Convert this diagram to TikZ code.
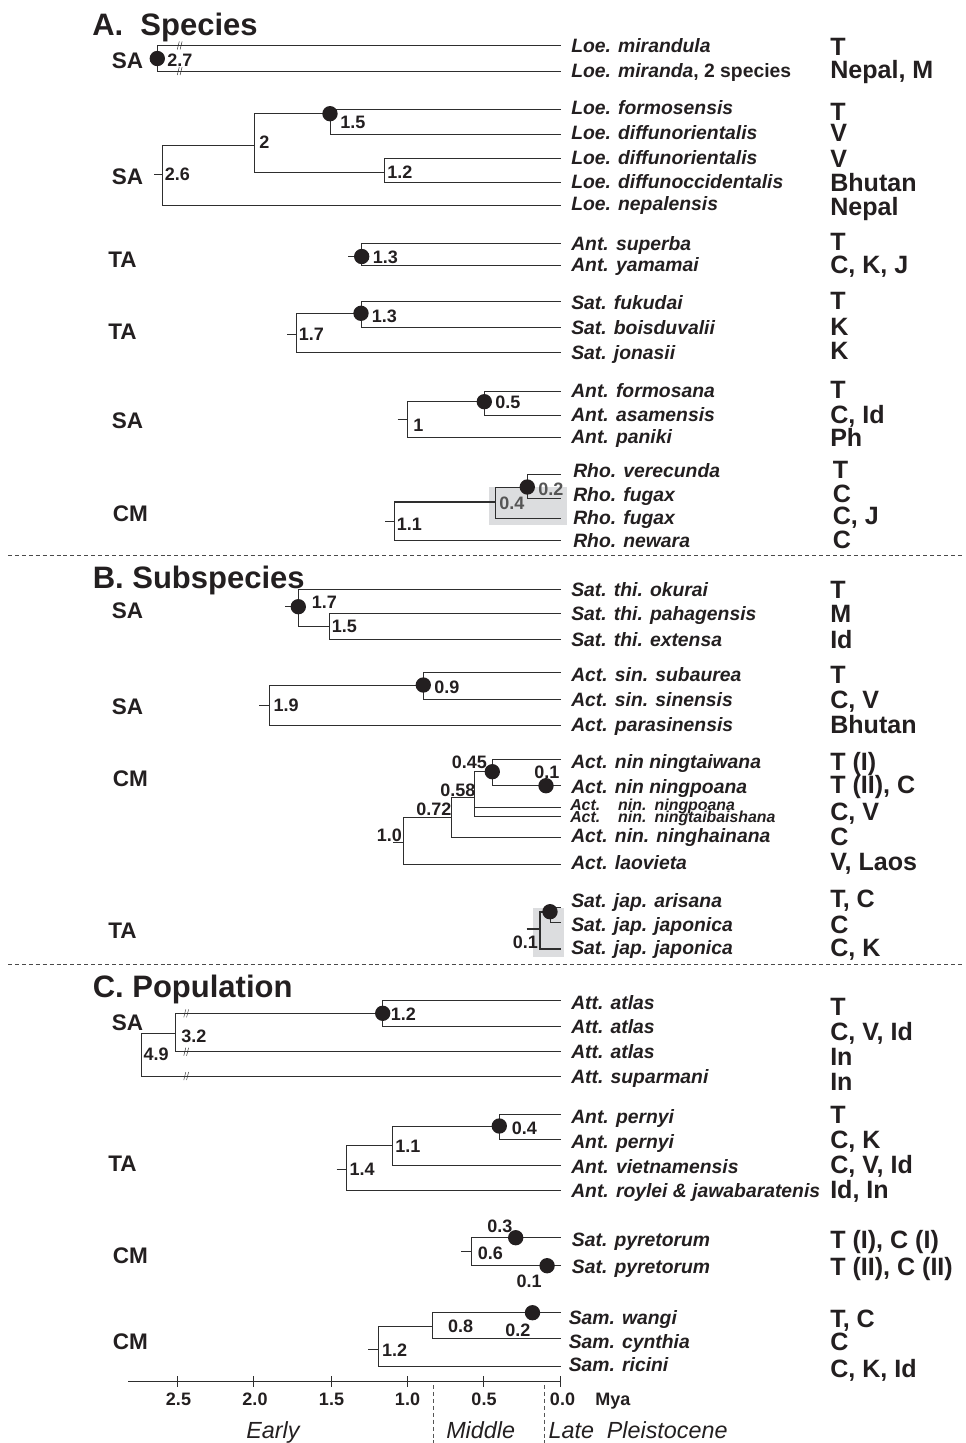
\documentclass[tikz,border=0pt]{standalone}
\usepackage{fontspec}
\setmainfont{Liberation Sans}
\definecolor{tc}{HTML}{231F20}
\definecolor{lc}{HTML}{2E2E2E}
\definecolor{gbox}{HTML}{DCDDDF}
\definecolor{gtx}{HTML}{555555}
\definecolor{sepc}{HTML}{4A4A4A}
\newcommand\leaffont{\fontsize{14.5}{16}\selectfont\bfseries\itshape}
\newcommand\sleaffont{\fontsize{11.9}{13}\selectfont\bfseries\itshape}
\newcommand\locfont{\fontsize{18.8}{20}\selectfont\bfseries}
\newcommand\grpfont{\fontsize{16.9}{18}\selectfont\bfseries}
\newcommand\nlfont{\fontsize{13.5}{15}\selectfont\bfseries}
\newcommand\ttlfont{\fontsize{23.25}{25}\selectfont\bfseries}
\newcommand\epfont{\fontsize{17.5}{19}\selectfont\itshape}
\tikzset{
  br/.style={draw=lc, line width=0.75pt},
  thk/.style={draw=lc, line width=1.5pt},
  leaf/.style={anchor=west, inner sep=0pt, font=\leaffont, text=tc, text height=10.4pt, text depth=0pt},
  sleaf/.style={anchor=west, inner sep=0pt, font=\sleaffont, text=tc, text height=8.5pt, text depth=0pt},
  loc/.style={anchor=west, inner sep=0pt, font=\locfont, text=tc, text height=13.4pt, text depth=0pt},
  grp/.style={anchor=west, inner sep=0pt, font=\grpfont, text=tc, text height=12.1pt, text depth=0pt},
  nl/.style={anchor=west, inner sep=0pt, font=\nlfont, text=tc, text height=9.7pt, text depth=0pt},
  ttl/.style={anchor=west, inner sep=0pt, font=\ttlfont, text=tc, text height=16.6pt, text depth=0pt},
  axlab/.style={anchor=center, inner sep=0pt, font=\nlfont, text=tc, text height=9.7pt, text depth=0pt},
  eplab/.style={anchor=west, inner sep=0pt, font=\epfont, text=tc, text height=12.5pt, text depth=0pt},
  dot/.style={circle, fill=tc, draw=none, inner sep=0pt, minimum size=11.5pt},
  sepline/.style={draw=sepc, line width=0.6pt, dash pattern=on 3pt off 2.2pt},
  vsepline/.style={draw=gtx, line width=0.6pt, dash pattern=on 3pt off 2.2pt},
  brk/.pic={\draw[lc, line width=0.35pt] (-2.2,4)--(-0.2,-4) (0.6,4)--(2.6,-4);}
}
\begin{document}
\begin{tikzpicture}[x=0.75pt,y=-0.75pt]
\useasboundingbox (0,0) rectangle (965,1443);
% grey boxes
\fill[gbox] (489.3,487.2) rectangle (566.7,525);
\fill[gbox] (532.7,908.3) rectangle (564.3,956.7);
% titles
\node[ttl] (tA) at (92,24) {A.\ \ Species};
\node[ttl] (tB) at (92.5,577.5) {B. Subspecies};
\node[ttl] (tC) at (92.5,986) {C. Population};
% separators
\coordinate (s1l) at (8,555.7); \coordinate (s1r) at (963,555.7);
\coordinate (s2l) at (8,964); \coordinate (s2r) at (963,964);
\draw[sepline] (s1l) -- (s1r);
\draw[sepline] (s2l) -- (s2r);

% ================= A =================
% A1
\coordinate (a27) at (157.3,58.5); \coordinate (a27s) at (150,58.5);
\coordinate (la1) at (561,45.5); \coordinate (la2) at (561,71);
\draw[br] (a27) |- (la1); \draw[br] (a27) |- (la2); \draw[br] (a27s) -- (a27);
\node[dot] (da27) at (a27) {};
\node[nl] (na27) at (167,60) {2.7};
\pic at (179.5,45.5) {brk}; \pic at (179.5,71) {brk};
\node[grp] (ga1) at (111.5,60) {SA};
\node[leaf] (xa1) at (571,46) {Loe. mirandula};
\node[leaf] (xa2) at (571,71) {Loe. miranda\upshape, 2 species};
\node[loc] (ya1) at (830,46.7) {T};
\node[loc] (ya2) at (830,70) {Nepal, M};
% A2
\coordinate (a26) at (162.3,174.3); \coordinate (a26s) at (154,174.3);
\coordinate (a20) at (254.3,145.7);
\coordinate (a15) at (330,113.7);
\coordinate (a12) at (384.3,172.3);
\coordinate (la3) at (561,109); \coordinate (la4) at (561,134);
\coordinate (la5) at (561,158.5); \coordinate (la6) at (561,182.5);
\coordinate (la7) at (561,205);
\draw[br] (a26s) -- (a26);
\draw[br] (a26) |- (a20); \draw[br] (a26) |- (la7);
\draw[br] (a20) |- (a15); \draw[br] (a20) |- (a12);
\draw[br] (a15) |- (la3); \draw[br] (a15) |- (la4);
\draw[br] (a12) |- (la5); \draw[br] (a12) |- (la6);
\node[dot] (da15) at (a15) {};
\node[nl] (na15) at (340,121.7) {1.5};
\node[nl] (na12) at (387,172) {1.2};
\node[nl] (na20) at (259,142) {2};
\node[nl] (na26) at (164.5,174.3) {2.6};
\node[grp] (ga2) at (111.5,176.7) {SA};
\node[leaf] (xa3) at (571,108) {Loe. formosensis};
\node[leaf] (xa4) at (571,133) {Loe. diffunorientalis};
\node[leaf] (xa5) at (571,157.5) {Loe. diffunorientalis};
\node[leaf] (xa6) at (571,181.5) {Loe. diffunoccidentalis};
\node[leaf] (xa7) at (571,204) {Loe. nepalensis};
\node[loc] (ya3) at (830,111.7) {T};
\node[loc] (ya4) at (830,133) {V};
\node[loc] (ya5) at (830,159) {V};
\node[loc] (ya6) at (830,182.7) {Bhutan};
\node[loc] (ya7) at (830,206.7) {Nepal};
% A3
\coordinate (a13) at (361.7,256.5); \coordinate (a13s) at (348,256.5);
\coordinate (la8) at (561,243.3); \coordinate (la9) at (561,265.7);
\draw[br] (a13s) -- (a13);
\draw[br] (a13) |- (la8); \draw[br] (a13) |- (la9);
\node[dot] (da13) at (a13) {};
\node[nl] (na13) at (372.7,257.3) {1.3};
\node[grp] (ga3) at (108,259.3) {TA};
\node[leaf] (xa8) at (571,243.3) {Ant. superba};
\node[leaf] (xa9) at (571,265) {Ant. yamamai};
\node[loc] (ya8) at (830,241.7) {T};
\node[loc] (ya9) at (830,264.3) {C, K, J};
% A4
\coordinate (a17) at (296.7,334.3); \coordinate (a17s) at (287.3,334.3);
\coordinate (a13b) at (361,313.3);
\coordinate (la10) at (561,301.3); \coordinate (la11) at (561,327.3);
\coordinate (la12) at (561,352.3);
\draw[br] (a17s) -- (a17);
\draw[br] (a17) |- (a13b); \draw[br] (a17) |- (la12);
\draw[br] (a13b) |- (la10); \draw[br] (a13b) |- (la11);
\node[dot] (da13b) at (a13b) {};
\node[nl] (na13b) at (371.7,315.7) {1.3};
\node[nl] (na17) at (298.5,334.3) {1.7};
\node[grp] (ga4) at (108,331.7) {TA};
\node[leaf] (xa10) at (571,302.3) {Sat. fukudai};
\node[leaf] (xa11) at (571,327.3) {Sat. boisduvalii};
\node[leaf] (xa12) at (571,352.3) {Sat. jonasii};
\node[loc] (ya10) at (830,301) {T};
\node[loc] (ya11) at (830,326.7) {K};
\node[loc] (ya12) at (830,351) {K};
% A5
\coordinate (a10) at (407.7,419.3); \coordinate (a10s) at (397.7,419.3);
\coordinate (a05) at (484.3,401.7);
\coordinate (la13) at (561,391); \coordinate (la14) at (561,415);
\coordinate (la15) at (561,437.3);
\draw[br] (a10s) -- (a10);
\draw[br] (a10) |- (a05); \draw[br] (a10) |- (la15);
\draw[br] (a05) |- (la13); \draw[br] (a05) |- (la14);
\node[dot] (da05) at (a05) {};
\node[nl] (na05) at (495,402.3) {0.5};
\node[nl] (na10) at (413,425) {1};
\node[grp] (ga5) at (111.5,420) {SA};
\node[leaf] (xa13) at (571,391) {Ant. formosana};
\node[leaf] (xa14) at (571,414.3) {Ant. asamensis};
\node[leaf] (xa15) at (571,436.7) {Ant. paniki};
\node[loc] (ya13) at (830,390) {T};
\node[loc] (ya14) at (830,414.3) {C, Id};
\node[loc] (ya15) at (830,437.7) {Ph};
% A6
\coordinate (a11) at (394,521.7); \coordinate (a11s) at (385,521.7);
\coordinate (a11t) at (394,502.3);
\coordinate (a04) at (495,502.3);
\coordinate (a02) at (527.3,487);
\coordinate (la16) at (561,474); \coordinate (la17) at (561,498.5);
\coordinate (la18) at (561,518.5); \coordinate (la19) at (561,540.5);
\draw[br] (a11s) -- (a11);
\draw[br] (a11) -- (a11t); \draw[br] (a11) |- (la19);
\draw[thk] (a11t) -- (a04);
\draw[br] (a04) |- (a02); \draw[br] (a04) |- (la18);
\draw[br] (a02) |- (la16); \draw[br] (a02) |- (la17);
\node[dot] (da02) at (a02) {};
\node[nl, text=gtx] (na02) at (538,489) {0.2};
\node[nl, text=gtx] (na04) at (499,503.3) {0.4};
\node[nl] (na11) at (396.7,524.3) {1.1};
\node[grp] (ga6) at (112.5,513.3) {CM};
\node[leaf] (xa16) at (573,471) {Rho. verecunda};
\node[leaf] (xa17) at (573,494.3) {Rho. fugax};
\node[leaf] (xa18) at (573,517.7) {Rho. fugax};
\node[leaf] (xa19) at (573,541) {Rho. newara};
\node[loc] (ya16) at (832.5,470) {T};
\node[loc] (ya17) at (832.5,493.3) {C};
\node[loc] (ya18) at (832.5,515.7) {C, J};
\node[loc] (ya19) at (832.5,540) {C};

% ================= B =================
% B1
\coordinate (b17) at (298.3,606.7); \coordinate (b17s) at (285,606.7);
\coordinate (b15) at (329.3,626);
\coordinate (lb1) at (561,589.3); \coordinate (lb2) at (561,613.3);
\coordinate (lb3) at (561,639.3);
\draw[br] (b17s) -- (b17);
\draw[br] (b17) |- (lb1); \draw[br] (b17) |- (b15);
\draw[br] (b15) |- (lb2); \draw[br] (b15) |- (lb3);
\node[dot] (db17) at (b17) {};
\node[nl] (nb17) at (311.7,602.3) {1.7};
\node[nl] (nb15) at (331.7,625.7) {1.5};
\node[grp] (gb1) at (111.5,610) {SA};
\node[leaf] (xb1) at (571,590) {Sat. thi. okurai};
\node[leaf] (xb2) at (571,614) {Sat. thi. pahagensis};
\node[leaf] (xb3) at (571,639.3) {Sat. thi. extensa};
\node[loc] (yb1) at (830,589.3) {T};
\node[loc] (yb2) at (830,614) {M};
\node[loc] (yb3) at (830,640) {Id};
% B2
\coordinate (b19) at (269,705); \coordinate (b19s) at (259.3,705);
\coordinate (b09) at (423.3,685);
\coordinate (lb4) at (561,672.7); \coordinate (lb5) at (561,699);
\coordinate (lb6) at (561,725);
\draw[br] (b19s) -- (b19);
\draw[br] (b19) |- (b09); \draw[br] (b19) |- (lb6);
\draw[br] (b09) |- (lb4); \draw[br] (b09) |- (lb5);
\node[dot] (db09) at (b09) {};
\node[nl] (nb09) at (434,687.3) {0.9};
\node[nl] (nb19) at (273.3,705) {1.9};
\node[grp] (gb2) at (111.5,706.7) {SA};
\node[leaf] (xb4) at (571,675) {Act. sin. subaurea};
\node[leaf] (xb5) at (571,700) {Act. sin. sinensis};
\node[leaf] (xb6) at (571,725) {Act. parasinensis};
\node[loc] (yb4) at (830,675) {T};
\node[loc] (yb5) at (830,700) {C, V};
\node[loc] (yb6) at (830,725) {Bhutan};
% B3
\coordinate (b10) at (403.3,842.3); \coordinate (b10s) at (393.3,842.3);
\coordinate (b072) at (451.7,817.3);
\coordinate (b058) at (474,797.3);
\coordinate (b045) at (492.3,771.7);
\coordinate (lb7) at (561,759); \coordinate (lb8) at (561,785.7);
\coordinate (lb9) at (561,807.7); \coordinate (lb10) at (561,816.7);
\coordinate (lb11) at (561,837.3); \coordinate (lb12) at (561,864);
\draw[br] (b10s) -- (b10);
\draw[br] (b10) |- (b072); \draw[br] (b10) |- (lb12);
\draw[br] (b072) |- (b058); \draw[br] (b072) |- (lb11);
\draw[br] (b058) |- (b045); \draw[br] (b058) |- (lb9); \draw[br] (b058) |- (lb10);
\draw[br] (b045) |- (lb7); \draw[br] (b045) |- (lb8);
\node[dot] (db045) at (b045) {};
\node[dot] (db01) at (546,785.7) {};
\node[nl] (nb01) at (534,771.7) {0.1};
\node[nl] (nb045) at (451.7,761.7) {0.45};
\node[nl] (nb058) at (440,790) {0.58};
\node[nl] (nb072) at (416,809.3) {0.72};
\node[nl] (nb10) at (376.7,835) {1.0};
\node[grp] (gb3) at (112.5,778.3) {CM};
\node[leaf] (xb7) at (571,761.7) {Act. nin ningtaiwana};
\node[leaf] (xb8) at (571,786.7) {Act. nin ningpoana};
\node[sleaf] (xb9) at (570,805) {Act.\hspace{13.5pt}nin.\hspace{6.2pt}ningpoana};
\node[sleaf] (xb10) at (570,816.7) {Act.\hspace{13.5pt}nin.\hspace{6.2pt}ningtaibaishana};
\node[leaf] (xb11) at (571,836) {Act. nin. ninghainana};
\node[leaf] (xb12) at (571,862.5) {Act. laovieta};
\node[loc] (yb7) at (830,761.7) {T (I)};
\node[loc] (yb8) at (830,785) {T (II), C};
\node[loc] (yb9) at (830,811.7) {C, V};
\node[loc] (yb11) at (830,836.7) {C};
\node[loc] (yb12) at (830,862) {V, Laos};
% B4
\coordinate (b01) at (540,929.3); \coordinate (b01s) at (526.7,929.3);
\coordinate (b01d) at (550,911.7);
\coordinate (lb13) at (561,907.7); \coordinate (lb14) at (561,922.7);
\coordinate (lb15) at (561,949.3);
\draw[thk] (b01s) -- (b01);
\draw[thk] (b01) |- (b01d); \draw[thk] (b01) |- (lb15);
\draw[br] (b01d) |- (lb13); \draw[br] (b01d) |- (lb14);
\node[dot] (db01d) at (b01d) {};
\node[nl] (nb01b) at (512.7,941.7) {0.1};
\node[grp] (gb4) at (108,930) {TA};
\node[leaf] (xb13) at (571,901) {Sat. jap. arisana};
\node[leaf] (xb14) at (571,925) {Sat. jap. japonica};
\node[leaf] (xb15) at (571,948) {Sat. jap. japonica};
\node[loc] (yb13) at (830,899) {T, C};
\node[loc] (yb14) at (830,925) {C};
\node[loc] (yb15) at (830,948) {C, K};

% ================= C =================
% C1
\coordinate (c49) at (141,1033.3);
\coordinate (c32) at (175.7,1033.3);
\coordinate (c12) at (382.7,1013.3);
\coordinate (lc1) at (561,1000.7); \coordinate (lc2) at (561,1026.7);
\coordinate (lc3) at (561,1051.7); \coordinate (lc4) at (561,1076);
\draw[br] (c49) -- (c32); \draw[br] (c49) |- (lc4);
\draw[br] (c32) |- (c12); \draw[br] (c32) |- (lc3);
\draw[br] (c12) |- (lc1); \draw[br] (c12) |- (lc2);
\node[dot] (dc12) at (c12) {};
\pic at (186,1013.3) {brk}; \pic at (186,1051.7) {brk}; \pic at (186,1076) {brk};
\node[nl] (nc12) at (390.7,1014) {1.2};
\node[nl] (nc32) at (181,1036) {3.2};
\node[nl] (nc49) at (143.3,1054.3) {4.9};
\node[grp] (gc1) at (111.5,1022.7) {SA};
\node[leaf] (xc1) at (571,1002.7) {Att. atlas};
\node[leaf] (xc2) at (571,1026.7) {Att. atlas};
\node[leaf] (xc3) at (571,1051.7) {Att. atlas};
\node[leaf] (xc4) at (571,1076.7) {Att. suparmani};
\node[loc] (yc1) at (830,1006.7) {T};
\node[loc] (yc2) at (830,1031.7) {C, V, Id};
\node[loc] (yc3) at (830,1056.7) {In};
\node[loc] (yc4) at (830,1081.7) {In};
% C2
\coordinate (c14) at (346.7,1169); \coordinate (c14s) at (336.7,1169);
\coordinate (c11) at (392.3,1145.7);
\coordinate (c04) at (499.3,1126);
\coordinate (lc5) at (561,1114); \coordinate (lc6) at (561,1139);
\coordinate (lc7) at (561,1165.7); \coordinate (lc8) at (561,1190);
\draw[br] (c14s) -- (c14);
\draw[br] (c14) |- (c11); \draw[br] (c14) |- (lc8);
\draw[br] (c11) |- (c04); \draw[br] (c11) |- (lc7);
\draw[br] (c04) |- (lc5); \draw[br] (c04) |- (lc6);
\node[dot] (dc04) at (c04) {};
\node[nl] (nc04) at (511.7,1127.7) {0.4};
\node[nl] (nc11) at (395,1145.7) {1.1};
\node[nl] (nc14) at (349.3,1169.3) {1.4};
\node[grp] (gc2) at (108,1163.3) {TA};
\node[leaf] (xc5) at (571,1116.7) {Ant. pernyi};
\node[leaf] (xc6) at (571,1141.7) {Ant. pernyi};
\node[leaf] (xc7) at (571,1166.7) {Ant. vietnamensis};
\node[leaf] (xc8) at (571,1190.7) {Ant. roylei \& jawabaratenis};
\node[loc] (yc5) at (830,1115) {T};
\node[loc] (yc6) at (830,1140) {C, K};
\node[loc] (yc7) at (830,1165) {C, V, Id};
\node[loc] (yc8) at (830,1190) {Id, In};
% C3
\coordinate (c06) at (471.8,1251.7); \coordinate (c06s) at (461.4,1251.7);
\coordinate (lc9) at (561,1237.7); \coordinate (lc10) at (561,1265.7);
\draw[br] (c06s) -- (c06);
\draw[br] (c06) |- (lc9); \draw[br] (c06) |- (lc10);
\node[dot] (dc03) at (515.7,1237.7) {};
\node[dot] (dc01) at (547.1,1265.7) {};
\node[nl] (nc03) at (487,1225.7) {0.3};
\node[nl] (nc06) at (477.5,1253.3) {0.6};
\node[nl] (nc01) at (516.4,1281) {0.1};
\node[grp] (gc3) at (112.5,1255) {CM};
\node[leaf] (xc9) at (571.7,1240) {Sat. pyretorum};
\node[leaf] (xc10) at (571.7,1266.7) {Sat. pyretorum};
\node[loc] (yc9) at (830,1240) {T (I), C (I)};
\node[loc] (yc10) at (830,1266.7) {T (II), C (II)};
% C4
\coordinate (c12b) at (378.2,1349); \coordinate (c12bs) at (368.2,1349);
\coordinate (c08) at (432.9,1326.7);
\coordinate (lc11) at (561,1312.7); \coordinate (lc12) at (561,1338.3);
\coordinate (lc13) at (561,1366);
\draw[br] (c12bs) -- (c12b);
\draw[br] (c12b) |- (c08); \draw[br] (c12b) |- (lc13);
\draw[br] (c08) |- (lc11); \draw[br] (c08) |- (lc12);
\node[dot] (dc02) at (532.5,1312.7) {};
\node[nl] (nc02) at (505,1330) {0.2};
\node[nl] (nc08) at (447.9,1326) {0.8};
\node[nl] (nc12b) at (381.8,1350) {1.2};
\node[grp] (gc4) at (112.5,1341.7) {CM};
\node[leaf] (xc11) at (568.5,1317.5) {Sam. wangi};
\node[leaf] (xc12) at (568.5,1341.7) {Sam. cynthia};
\node[leaf] (xc13) at (568.5,1365) {Sam. ricini};
\node[loc] (yc11) at (830,1318.3) {T, C};
\node[loc] (yc12) at (830,1341.7) {C};
\node[loc] (yc13) at (830,1368.3) {C, K, Id};

% ================= axis =================
\coordinate (axl) at (128.2,1381); \coordinate (axr) at (560.4,1381);
\draw[br] (axl) -- (axr);
\foreach \tx in {177.5,253.9,331.1,407.5,483.6,560.4} {\draw[br] (\tx,1376) -- (\tx,1386.5);}
\node[axlab] (t25) at (178.5,1399) {2.5};
\node[axlab] (t20) at (255,1399) {2.0};
\node[axlab] (t15) at (331.5,1399) {1.5};
\node[axlab] (t10) at (407.5,1399) {1.0};
\node[axlab] (t05) at (484,1399) {0.5};
\node[axlab] (t00) at (562.5,1399) {0.0};
\node[nl] (mya) at (595,1399) {Mya};
\coordinate (v1t) at (432.9,1385); \coordinate (v1b) at (432.9,1443);
\coordinate (v2t) at (544.3,1385); \coordinate (v2b) at (544.3,1443);
\draw[vsepline] (v1t) -- (v1b);
\draw[vsepline] (v2t) -- (v2b);
\node[eplab] (epE) at (246,1430) {Early};
\node[eplab] (epM) at (446,1430) {Middle};
\node[eplab] (epL) at (548.3,1430) {Late\ \ Pleistocene};
\end{tikzpicture}
\end{document}
